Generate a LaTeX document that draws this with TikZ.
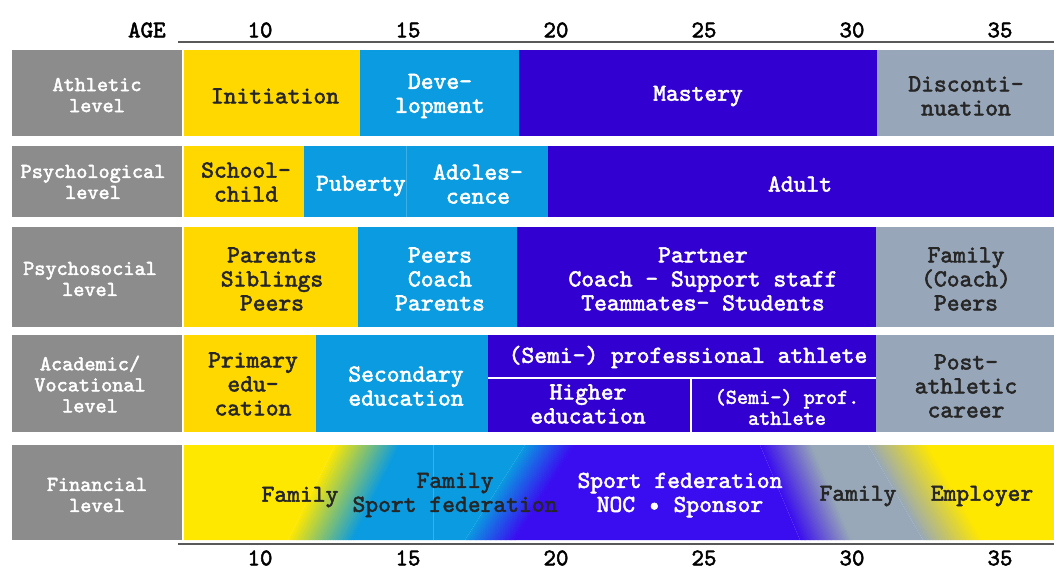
\documentclass[tikz,border=0pt]{standalone}
\usepackage{fontspec}
\newfontfamily\courbf{lmmono10-regular.otf}[FakeBold=2.2]
\definecolor{lvgray}{HTML}{8C8C8C}
\definecolor{cyellow}{HTML}{FFD800}
\definecolor{cblue}{HTML}{0A9BE0}
\definecolor{cpurple}{HTML}{3200D0}
\definecolor{cslate}{HTML}{97A6B8}
\definecolor{fyellow}{HTML}{FFE800}
\definecolor{fpurple}{HTML}{3A0CF0}
\definecolor{fslate}{HTML}{98A8B8}
\begin{document}
\begin{tikzpicture}[x=0.5pt, y=-0.5pt, every node/.style={inner sep=1pt},
    lvl/.style={text=white, align=center, font=\courbf\fontsize{10.6}{10.5}\selectfont},
    dk/.style={text=black!85, align=center, font=\courbf\fontsize{12.2}{12}\selectfont},
    lt/.style={text=white, align=center, font=\courbf\fontsize{12.2}{12}\selectfont},
    agenum/.style={font=\courbf\fontsize{11.9}{12}\selectfont}]

    \useasboundingbox (0,0) rectangle (1054,570);

    % Age axis
    \draw[line width=1pt, black!65] (178,42) -- (1054,42);
    \draw[line width=1pt, black!65] (178,544) -- (1054,544);
    \node[agenum, anchor=east] (agelbl) at (168,30) {AGE};
    \foreach \a in {10, 15, 20, 25, 30, 35} {
        \node[agenum] (top\a) at ({260 + (\a - 10)*29.6}, 30) {\a};
        \node[agenum] (bot\a) at ({260 + (\a - 10)*29.6}, 558) {\a};
    }

    % Level labels
    \foreach \t/\b in {50/136, 146/217, 227/327, 335/432, 445/540} {
        \fill[lvgray] (12,\t) rectangle (182,\b);
    }
    \node[lvl] (athlbl) at (97,95) {Athletic\\level};
    \node[lvl] (psylbl) at (93,182) {Psychological\\level};
    \node[lvl] (soclbl) at (90,279) {Psychosocial\\level};
    \node[lvl] (acalbl) at (90,384) {Academic/\\Vocational\\level};
    \node[lvl] (finlbl) at (97,495) {Financial\\level};

    % Athletic level
    \fill[cyellow] (184,50) rectangle (360,136);
    \fill[cblue] (360,50) rectangle (519,136);
    \fill[cpurple] (519,50) rectangle (877,136);
    \fill[cslate] (877,50) rectangle (1054,136);
    \node[dk] (init) at (275,96) {Initiation};
    \node[lt] (devel) at (440,96) {Deve-\\lopment};
    \node[lt] (mast) at (698,96) {Mastery};
    \node[dk] (disc) at (966,96) {Disconti-\\nuation};

    % Psychological level
    \fill[cyellow] (184,146) rectangle (304,217);
    \fill[cblue] (304,146) rectangle (548,217);
    \fill[cpurple] (548,146) rectangle (1054,217);
    \draw[cblue!80!white, line width=0.3pt] (406,146) -- (406,217);
    \node[dk] (school) at (246,182) {School-\\child};
    \node[lt] (pub) at (361,186) {Puberty};
    \node[lt] (adol) at (478,184) {Adoles-\\cence};
    \node[lt] (adult) at (800,184) {Adult};

    % Psychosocial level
    \fill[cyellow] (184,227) rectangle (358,327);
    \fill[cblue] (358,227) rectangle (517,327);
    \fill[cpurple] (517,227) rectangle (876,327);
    \fill[cslate] (876,227) rectangle (1054,327);
    \node[dk] (kin) at (272,279) {Parents\\Siblings\\Peers};
    \node[lt] (peers) at (440,279) {Peers\\Coach\\Parents};
    \node[lt] (partner) at (703,279) {Partner\\Coach - Support staff\\Teammates- Students};
    \node[dk] (family) at (966,279) {Family\\(Coach)\\Peers};

    % Academic/vocational level
    \fill[cyellow] (184,335) rectangle (316,432);
    \fill[cblue] (316,335) rectangle (488,432);
    \fill[cpurple] (488,335) rectangle (876,432);
    \fill[cslate] (876,335) rectangle (1054,432);
    \draw[white, line width=1.2pt] (488,378) -- (876,378);
    \draw[white, line width=1.2pt] (691,378) -- (691,432);
    \node[dk] (prim) at (253,384) {Primary\\edu-\\cation};
    \node[lt] (sec) at (406,386) {Secondary\\education};
    \node[lt] (semi) at (688,357) {(Semi-) professional athlete};
    \node[lt] (higher) at (588,404) {Higher\\education};
    \node[lt, font=\courbf\fontsize{10.6}{10.5}\selectfont] (semiprof) at (787,407)
    {(Semi-) prof.\\athlete};
    \node[dk] (post) at (966,386) {Post-\\athletic\\career};

    % Financial level
    \fill[fyellow] (184,445) -- (335,445) -- (288,540) -- (184,540) -- cycle;
    \fill[cblue] (400,445) -- (525,445) -- (465,540) -- (353,540) -- cycle;
    \fill[fpurple] (575,445) -- (760,445) -- (800,540) -- (515,540) -- cycle;
    \fill[fslate] (812,445) -- (868,445) -- (923,540) -- (852,540) -- cycle;
    \fill[fyellow] (928,445) -- (1054,445) -- (1054,540) -- (983,540) -- cycle;
    \foreach \xt/\bw/\sl/\ca/\cb in {335/65/-47/fyellow/cblue, 525/50/-60/cblue/fpurple,
        760/52/40/fpurple/fslate, 868/60/55/fslate/fyellow} {
        \foreach \k in {0,...,39} {
            \pgfmathtruncatemacro\mix{99 - 2.5*\k}
            \fill[\ca!\mix!\cb] ({\xt + \k*\bw/40}, 445) -- ({\xt + (\k+1)*\bw/40 + 0.6}, 445)
                -- ({\xt + (\k+1)*\bw/40 + 0.6 + \sl}, 540) -- ({\xt + \k*\bw/40 + \sl}, 540) -- cycle;
        }
    }
    \draw[cblue!80!white, line width=0.3pt] (433,445) -- (433,540);
    \node[dk] (famfin) at (300,497) {Family};
    \node[dk] (fedfin) at (455,495) {Family\\Sport federation};
    \node[lt] (nocfin) at (680,495) {Sport federation\\NOC • Sponsor};
    \node[dk] (famlate) at (858,496) {Family};
    \node[dk] (empl) at (982,496) {Employer};
\end{tikzpicture}
\end{document}
